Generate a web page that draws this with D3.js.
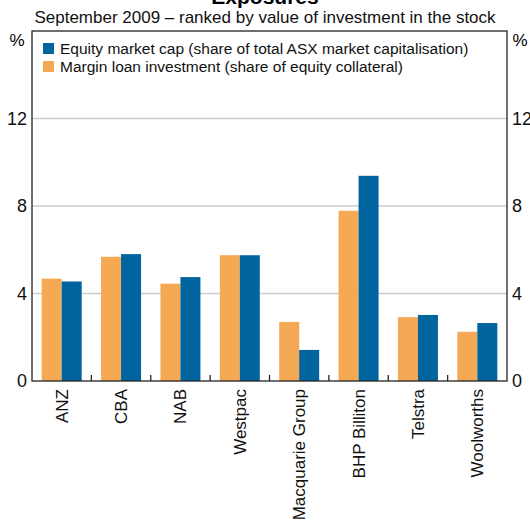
<!DOCTYPE html>
<html>
<head>
<meta charset="utf-8">
<script src="https://cdn.jsdelivr.net/npm/d3@7"></script>
<style>
  body { margin: 0; background: #fff; }
  svg { font-family: "Liberation Sans", Arial, sans-serif; }
</style>
</head>
<body>
<svg id="chart" width="530" height="522"></svg>
<script>
const stocks = ['ANZ', 'CBA', 'NAB', 'Westpac', 'Macquarie Group', 'BHP Billiton', 'Telstra', 'Woolworths'];
const marginLoan = [4.68, 5.68, 4.45, 5.75, 2.7, 7.78, 2.92, 2.25];
const marketCap = [4.55, 5.8, 4.75, 5.75, 1.42, 9.38, 3.02, 2.65];
const yTicks = [0, 4, 8, 12];

const width = 530;
const height = 522;
const margin = { left: 32, right: 23, top: 31, bottom: 141 };
const orange = '#f6a955';
const blue = '#00659e';

const svg = d3.select('#chart');

const x = d3.scaleBand()
  .domain(stocks)
  .range([margin.left, width - margin.right]);

const y = d3.scaleLinear()
  .domain([0, 16])
  .range([height - margin.bottom, margin.top]);

const barW = 20;

// gridlines
svg.append('g')
  .selectAll('line')
  .data(yTicks.filter(d => d > 0))
  .enter()
  .append('line')
  .attr('x1', margin.left)
  .attr('x2', width - margin.right)
  .attr('y1', d => y(d))
  .attr('y2', d => y(d))
  .attr('stroke', '#c9cdd1')
  .attr('stroke-width', 1.3);

// bars
svg.append('g')
  .selectAll('rect')
  .data(stocks)
  .enter()
  .append('rect')
  .attr('x', d => x(d) + x.bandwidth() / 2 - barW)
  .attr('y', (d, i) => y(marginLoan[i]))
  .attr('width', barW)
  .attr('height', (d, i) => y(0) - y(marginLoan[i]))
  .attr('fill', orange);

svg.append('g')
  .selectAll('rect')
  .data(stocks)
  .enter()
  .append('rect')
  .attr('x', d => x(d) + x.bandwidth() / 2)
  .attr('y', (d, i) => y(marketCap[i]))
  .attr('width', barW)
  .attr('height', (d, i) => y(0) - y(marketCap[i]))
  .attr('fill', blue);

// frame
svg.append('rect')
  .attr('x', margin.left)
  .attr('y', margin.top)
  .attr('width', width - margin.left - margin.right)
  .attr('height', height - margin.top - margin.bottom)
  .attr('fill', 'none')
  .attr('stroke', '#222')
  .attr('stroke-width', 1.3);

// ticks between categories
svg.append('g')
  .selectAll('line')
  .data(stocks.slice(1))
  .enter()
  .append('line')
  .attr('x1', d => x(d))
  .attr('x2', d => x(d))
  .attr('y1', y(0))
  .attr('y2', y(0) - 6)
  .attr('stroke', '#222')
  .attr('stroke-width', 1.3);

// y tick labels
const yLeft = d3.axisLeft(y).tickValues(yTicks).tickSize(0).tickPadding(5);
const yRight = d3.axisRight(y).tickValues(yTicks).tickSize(0).tickPadding(5);

svg.append('g')
  .attr('transform', `translate(${margin.left}, 0)`)
  .call(yLeft)
  .call(g => g.select('.domain').remove())
  .selectAll('text')
  .attr('font-size', 18)
  .attr('font-family', '"Liberation Sans", Arial, sans-serif')
  .attr('fill', '#111');

svg.append('g')
  .attr('transform', `translate(${width - margin.right}, 0)`)
  .call(yRight)
  .call(g => g.select('.domain').remove())
  .selectAll('text')
  .attr('font-size', 18)
  .attr('font-family', '"Liberation Sans", Arial, sans-serif')
  .attr('fill', '#111');

// % units
svg.append('text')
  .attr('x', 17)
  .attr('y', 46)
  .attr('text-anchor', 'middle')
  .attr('font-size', 17)
  .text('%');

svg.append('text')
  .attr('x', 520)
  .attr('y', 46)
  .attr('text-anchor', 'middle')
  .attr('font-size', 17)
  .text('%');

// category labels
svg.append('g')
  .selectAll('text')
  .data(stocks)
  .enter()
  .append('text')
  .attr('transform', d => `translate(${x(d) + x.bandwidth() / 2 + 6}, ${y(0) + 8}) rotate(-90)`)
  .attr('text-anchor', 'end')
  .attr('font-size', 17)
  .attr('fill', '#111')
  .text(d => d);

// title
svg.append('text')
  .attr('x', width / 2)
  .attr('y', 4)
  .attr('text-anchor', 'middle')
  .attr('font-size', 21)
  .attr('font-weight', 'bold')
  .text('Exposures');

svg.append('text')
  .attr('x', width / 2)
  .attr('y', 23)
  .attr('text-anchor', 'middle')
  .attr('font-size', 17)
  .attr('fill', '#111')
  .text('September 2009 \u2013 ranked by value of investment in the stock');

// legend
const legend = [
  { label: 'Equity market cap (share of total ASX market capitalisation)', color: blue },
  { label: 'Margin loan investment (share of equity collateral)', color: orange }
];

const lg = svg.append('g')
  .selectAll('g')
  .data(legend)
  .enter()
  .append('g')
  .attr('transform', (d, i) => `translate(43, ${43 + i * 18})`);

lg.append('rect')
  .attr('width', 11)
  .attr('height', 11)
  .attr('fill', d => d.color);

lg.append('text')
  .attr('x', 17)
  .attr('y', 11)
  .attr('font-size', 15.5)
  .attr('fill', '#111')
  .text(d => d.label);
</script>
</body>
</html>
